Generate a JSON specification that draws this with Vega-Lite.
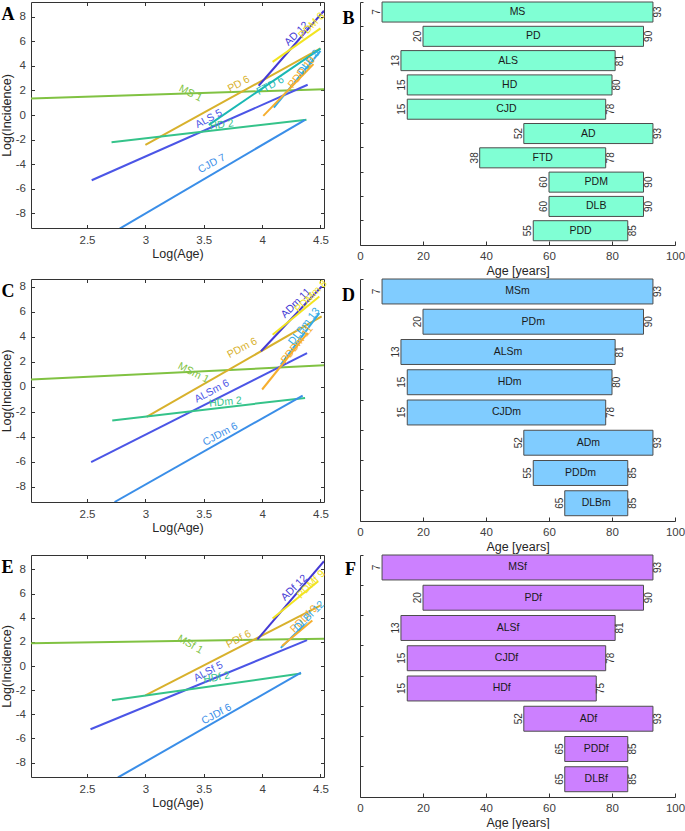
{
  "$schema": "https://vega.github.io/schema/vega-lite/v6.json",
  "padding": {"left": 0, "top": 1, "right": 0, "bottom": 0},
  "background": "white",
  "config": {
    "font": "Liberation Sans",
    "view": {"stroke": null},
    "axis": {"labelFont": "Liberation Sans", "titleFont": "Liberation Sans", "labelColor": "#404040", "titleColor": "#262626", "domainColor": "#333333", "tickColor": "#333333", "grid": false, "titleFontWeight": "normal", "labelFontSize": 11.5, "titleFontSize": 12.5, "labelFlush": false, "labelOverlap": false}
  },
  "datasets": {
    "linesA": [
      {"d": "MS", "x": 2.02, "y": 1.34}, {"d": "MS", "x": 4.53, "y": 2.1},
      {"d": "PD", "x": 3.0, "y": -2.43}, {"d": "PD", "x": 4.5, "y": 5.42},
      {"d": "ALS", "x": 2.54, "y": -5.31}, {"d": "ALS", "x": 4.39, "y": 2.46},
      {"d": "HD", "x": 2.71, "y": -2.21}, {"d": "HD", "x": 4.38, "y": -0.39},
      {"d": "CJD", "x": 2.78, "y": -9.25}, {"d": "CJD", "x": 4.368, "y": -0.39},
      {"d": "FTD", "x": 3.543, "y": -0.8}, {"d": "FTD", "x": 4.5, "y": 5.4},
      {"d": "AD", "x": 3.97, "y": 2.38}, {"d": "AD", "x": 4.53, "y": 8.49},
      {"d": "PDM", "x": 4.09, "y": 4.33}, {"d": "PDM", "x": 4.5, "y": 7.05},
      {"d": "DLB", "x": 4.1, "y": 0.6}, {"d": "DLB", "x": 4.5, "y": 5.23},
      {"d": "PDD", "x": 4.01, "y": -0.07}, {"d": "PDD", "x": 4.44, "y": 4.14}
    ],
    "labelsA": [
      {"d": "MS", "t": "MS 1", "x": 3.386, "y": 1.75},
      {"d": "PD", "t": "PD 6", "x": 3.8, "y": 2.52},
      {"d": "ALS", "t": "ALS 5", "x": 3.543, "y": -0.31},
      {"d": "HD", "t": "HD 2", "x": 3.654, "y": -0.8},
      {"d": "CJD", "t": "CJD 7", "x": 3.569, "y": -3.96},
      {"d": "FTD", "t": "FTD 6", "x": 4.07, "y": 2.38},
      {"d": "AD", "t": "AD 12", "x": 4.297, "y": 6.61},
      {"d": "PDM", "t": "PDM 8", "x": 4.425, "y": 7.27},
      {"d": "DLB", "t": "DLB 8", "x": 4.4, "y": 4.28},
      {"d": "PDD", "t": "PDD 10", "x": 4.34, "y": 3.46}
    ],
    "linesC": [
      {"d": "MS", "x": 2.02, "y": 0.57}, {"d": "MS", "x": 4.53, "y": 1.71},
      {"d": "PD", "x": 3.01, "y": -2.4}, {"d": "PD", "x": 4.51, "y": 5.61},
      {"d": "ALS", "x": 2.535, "y": -6.01}, {"d": "ALS", "x": 4.385, "y": 2.69},
      {"d": "HD", "x": 2.716, "y": -2.69}, {"d": "HD", "x": 4.368, "y": -0.89},
      {"d": "CJD", "x": 2.736, "y": -9.2}, {"d": "CJD", "x": 4.347, "y": -0.7},
      {"d": "AD", "x": 3.99, "y": 2.83}, {"d": "AD", "x": 4.51, "y": 8.0},
      {"d": "PDM", "x": 4.09, "y": 4.15}, {"d": "PDM", "x": 4.49, "y": 7.2},
      {"d": "DLB", "x": 4.16, "y": 1.77}, {"d": "DLB", "x": 4.49, "y": 5.88},
      {"d": "PDD", "x": 4.0, "y": -0.22}, {"d": "PDD", "x": 4.39, "y": 4.29}
    ],
    "labelsC": [
      {"d": "MS", "t": "MSm 1", "x": 3.412, "y": 1.1},
      {"d": "PD", "t": "PDm 6", "x": 3.83, "y": 3.09},
      {"d": "ALS", "t": "ALSm 6", "x": 3.57, "y": -0.36},
      {"d": "HD", "t": "HDm 2", "x": 3.686, "y": -1.23},
      {"d": "CJD", "t": "CJDm 6", "x": 3.642, "y": -3.8},
      {"d": "AD", "t": "ADm 11", "x": 4.29, "y": 6.67},
      {"d": "PDM", "t": "PDMm 8", "x": 4.42, "y": 7.2},
      {"d": "DLB", "t": "DLBm 13", "x": 4.36, "y": 4.82},
      {"d": "PDD", "t": "PDDm 11", "x": 4.3, "y": 3.36}
    ],
    "linesE": [
      {"d": "MS", "x": 2.02, "y": 1.88}, {"d": "MS", "x": 4.53, "y": 2.26},
      {"d": "PD", "x": 3.0, "y": -2.43}, {"d": "PD", "x": 4.506, "y": 5.05},
      {"d": "ALS", "x": 2.53, "y": -5.24}, {"d": "ALS", "x": 4.385, "y": 2.15},
      {"d": "HD", "x": 2.713, "y": -2.84}, {"d": "HD", "x": 4.333, "y": -0.63},
      {"d": "CJD", "x": 2.765, "y": -9.24}, {"d": "CJD", "x": 4.333, "y": -0.55},
      {"d": "AD", "x": 3.96, "y": 2.21}, {"d": "AD", "x": 4.53, "y": 8.69},
      {"d": "PDM", "x": 4.09, "y": 3.94}, {"d": "PDM", "x": 4.48, "y": 7.03},
      {"d": "DLB", "x": 4.16, "y": 1.5}, {"d": "DLB", "x": 4.36, "y": 3.4},
      {"d": "PDD", "x": 4.17, "y": 1.66}, {"d": "PDD", "x": 4.43, "y": 3.78}
    ],
    "labelsE": [
      {"d": "MS", "t": "MSf 1", "x": 3.383, "y": 1.79},
      {"d": "PD", "t": "PDf 6", "x": 3.8, "y": 2.21},
      {"d": "ALS", "t": "ALSf 5", "x": 3.54, "y": -0.47},
      {"d": "HD", "t": "HDf 2", "x": 3.61, "y": -0.97},
      {"d": "CJD", "t": "CJDf 6", "x": 3.61, "y": -4.0},
      {"d": "AD", "t": "ADf 12", "x": 4.276, "y": 6.48},
      {"d": "PDM", "t": "PDMf 9", "x": 4.42, "y": 6.76},
      {"d": "PDD", "t": "PDDf 9", "x": 4.36, "y": 3.9},
      {"d": "DLB", "t": "DLBf 12", "x": 4.405, "y": 4.14}
    ],
    "barsB": [
      {"label": "MS", "start": 7, "end": 93},
      {"label": "PD", "start": 20, "end": 90},
      {"label": "ALS", "start": 13, "end": 81},
      {"label": "HD", "start": 15, "end": 80},
      {"label": "CJD", "start": 15, "end": 78},
      {"label": "AD", "start": 52, "end": 93},
      {"label": "FTD", "start": 38, "end": 78},
      {"label": "PDM", "start": 60, "end": 90},
      {"label": "DLB", "start": 60, "end": 90},
      {"label": "PDD", "start": 55, "end": 85}
    ],
    "barsD": [
      {"label": "MSm", "start": 7, "end": 93},
      {"label": "PDm", "start": 20, "end": 90},
      {"label": "ALSm", "start": 13, "end": 81},
      {"label": "HDm", "start": 15, "end": 80},
      {"label": "CJDm", "start": 15, "end": 78},
      {"label": "ADm", "start": 52, "end": 93},
      {"label": "PDDm", "start": 55, "end": 85},
      {"label": "DLBm", "start": 65, "end": 85}
    ],
    "barsF": [
      {"label": "MSf", "start": 7, "end": 93},
      {"label": "PDf", "start": 20, "end": 90},
      {"label": "ALSf", "start": 13, "end": 81},
      {"label": "CJDf", "start": 15, "end": 78},
      {"label": "HDf", "start": 15, "end": 75},
      {"label": "ADf", "start": 52, "end": 93},
      {"label": "PDDf", "start": 65, "end": 85},
      {"label": "DLBf", "start": 65, "end": 85}
    ]
  },
  "columns": 2,
  "spacing": {"row": 34, "column": 36},
  "bounds": "flush",
  "concat": [
    {
      "width": 293, "height": 226,
      "title": {"text": "A", "anchor": "start", "frame": "group", "orient": "none", "offset": 0, "dx": -29.6, "dy": 18.3, "baseline": "alphabetic", "font": "Liberation Serif", "fontSize": 18, "fontWeight": "bold", "color": "#000000"},
      "layer": [
        {"data": {"name": "linesA"}, "mark": {"type": "line", "strokeWidth": 2, "clip": true},
         "encoding": {
           "x": {"field": "x", "type": "quantitative", "scale": {"domain": [2.02, 4.53], "nice": false, "zero": false}, "axis": {"orient": "bottom", "values": [2.5, 3, 3.5, 4, 4.5], "labelExpr": "'' + datum.value", "title": "Log(Age)", "tickSize": -3.5, "labelPadding": 9.7, "titlePadding": 2}},
           "y": {"field": "y", "type": "quantitative", "scale": {"domain": [-9.2, 9.2], "nice": false, "zero": false}, "axis": {"orient": "left", "values": [-8, -6, -4, -2, 0, 2, 4, 6, 8], "labelExpr": "'' + datum.value", "title": "Log(Incidence)", "tickSize": -3.5, "labelPadding": 9.1, "titlePadding": 2}},
           "color": {"field": "d", "type": "nominal", "scale": {"domain": ["MS", "PD", "ALS", "HD", "CJD", "FTD", "AD", "PDM", "DLB", "PDD"], "range": ["#80c242", "#d8b12c", "#4b55e6", "#35c38a", "#3a8ee8", "#1ab8b4", "#4439d4", "#f2e420", "#33aae6", "#f6ae2e"]}, "legend": null}
         }},
        {"data": {"name": "labelsA"}, "transform": [{"filter": {"field": "d", "oneOf": ["MS"]}}], "mark": {"type": "text", "angle": 27, "fontSize": 10.5, "font": "Liberation Sans"},
         "encoding": {"x": {"field": "x", "type": "quantitative", "axis": null}, "y": {"field": "y", "type": "quantitative", "axis": null}, "text": {"field": "t"}, "color": {"field": "d", "type": "nominal", "legend": null}}},
        {"data": {"name": "labelsA"}, "transform": [{"filter": {"field": "d", "oneOf": ["HD"]}}], "mark": {"type": "text", "angle": -8, "fontSize": 10.5, "font": "Liberation Sans"},
         "encoding": {"x": {"field": "x", "type": "quantitative", "axis": null}, "y": {"field": "y", "type": "quantitative", "axis": null}, "text": {"field": "t"}, "color": {"field": "d", "type": "nominal", "legend": null}}},
        {"data": {"name": "labelsA"}, "transform": [{"filter": {"field": "d", "oneOf": ["PD", "ALS", "CJD", "FTD"]}}], "mark": {"type": "text", "angle": -28, "fontSize": 10.5, "font": "Liberation Sans"},
         "encoding": {"x": {"field": "x", "type": "quantitative", "axis": null}, "y": {"field": "y", "type": "quantitative", "axis": null}, "text": {"field": "t"}, "color": {"field": "d", "type": "nominal", "legend": null}}},
        {"data": {"name": "labelsA"}, "transform": [{"filter": {"field": "d", "oneOf": ["AD", "PDM"]}}], "mark": {"type": "text", "angle": -45, "fontSize": 10.5, "font": "Liberation Sans"},
         "encoding": {"x": {"field": "x", "type": "quantitative", "axis": null}, "y": {"field": "y", "type": "quantitative", "axis": null}, "text": {"field": "t"}, "color": {"field": "d", "type": "nominal", "legend": null}}},
        {"data": {"name": "labelsA"}, "transform": [{"filter": {"field": "d", "oneOf": ["DLB", "PDD"]}}], "mark": {"type": "text", "angle": -52, "fontSize": 10.5, "font": "Liberation Sans"},
         "encoding": {"x": {"field": "x", "type": "quantitative", "axis": null}, "y": {"field": "y", "type": "quantitative", "axis": null}, "text": {"field": "t"}, "color": {"field": "d", "type": "nominal", "legend": null}}},
        {"data": {"name": "linesA"}, "mark": {"type": "point", "opacity": 0},
         "encoding": {
           "x": {"field": "x", "type": "quantitative", "axis": {"orient": "top", "values": [2.5, 3, 3.5, 4, 4.5], "labels": false, "title": null, "tickSize": -3.5}},
           "y": {"field": "y", "type": "quantitative", "axis": {"orient": "right", "values": [-8, -6, -4, -2, 0, 2, 4, 6, 8], "labels": false, "title": null, "tickSize": -3.5}}
         }}
      ],
      "resolve": {"axis": {"x": "independent", "y": "independent"}}
    },
    {
      "width": 315, "height": 243,
      "title": {"text": "B", "anchor": "start", "frame": "group", "orient": "none", "offset": 0, "dx": -17.4, "dy": 22.3, "baseline": "alphabetic", "font": "Liberation Serif", "fontSize": 18, "fontWeight": "bold", "color": "#000000"},
      "data": {"name": "barsB"},
      "encoding": {
        "y": {"field": "label", "type": "nominal", "sort": null, "scale": {"domain": ["MS", "PD", "ALS", "HD", "CJD", "AD", "FTD", "PDM", "DLB", "PDD"], "paddingInner": 0.175, "paddingOuter": 0.0875, "align": 0}, "axis": {"orient": "left", "labels": false, "title": null, "tickSize": -3, "bandPosition": 0}}
      },
      "layer": [
        {"mark": {"type": "bar", "fill": "#80ffd4", "stroke": "#4d4d4d", "strokeWidth": 1, "cornerRadius": 0},
         "encoding": {
           "x": {"field": "start", "type": "quantitative", "scale": {"domain": [0, 100], "nice": false}, "axis": {"orient": "bottom", "values": [0, 20, 40, 60, 80, 100], "labelExpr": "'' + datum.value", "title": "Age [years]", "tickSize": -4, "labelPadding": 9.8, "titlePadding": 2}},
           "x2": {"field": "end"}
         }},
        {"transform": [{"fold": ["start", "end"], "as": ["k", "v"]}],
         "mark": {"type": "text", "fontSize": 10.5, "color": "#1a1a1a", "font": "Liberation Sans"},
         "encoding": {"x": {"aggregate": "mean", "field": "v", "type": "quantitative", "axis": {"orient": "bottom", "values": [0, 20, 40, 60, 80, 100], "labelExpr": "'' + datum.value", "title": "Age [years]", "tickSize": -4, "labelPadding": 9.8, "titlePadding": 2}}, "text": {"field": "label"}}},
        {"mark": {"type": "text", "angle": 270, "baseline": "bottom", "align": "center", "fontSize": 10, "color": "#333333", "font": "Liberation Sans"},
         "encoding": {"x": {"field": "start", "type": "quantitative", "axis": {"orient": "bottom", "values": [0, 20, 40, 60, 80, 100], "labelExpr": "'' + datum.value", "title": "Age [years]", "tickSize": -4, "labelPadding": 9.8, "titlePadding": 2}}, "text": {"field": "start"}}},
        {"mark": {"type": "text", "angle": 270, "baseline": "top", "align": "center", "fontSize": 10, "color": "#333333", "font": "Liberation Sans"},
         "encoding": {"x": {"field": "end", "type": "quantitative", "axis": {"orient": "bottom", "values": [0, 20, 40, 60, 80, 100], "labelExpr": "'' + datum.value", "title": "Age [years]", "tickSize": -4, "labelPadding": 9.8, "titlePadding": 2}}, "text": {"field": "end"}}}
      ]
    },
    {
      "width": 293, "height": 223,
      "title": {"text": "C", "anchor": "start", "frame": "group", "orient": "none", "offset": 0, "dx": -29.6, "dy": 18.4, "baseline": "alphabetic", "font": "Liberation Serif", "fontSize": 18, "fontWeight": "bold", "color": "#000000"},
      "layer": [
        {"data": {"name": "linesC"}, "mark": {"type": "line", "strokeWidth": 2, "clip": true},
         "encoding": {
           "x": {"field": "x", "type": "quantitative", "scale": {"domain": [2.02, 4.53], "nice": false, "zero": false}, "axis": {"orient": "bottom", "values": [2.5, 3, 3.5, 4, 4.5], "labelExpr": "'' + datum.value", "title": "Log(Age)", "tickSize": -3.5, "labelPadding": 9.7, "titlePadding": 2}},
           "y": {"field": "y", "type": "quantitative", "scale": {"domain": [-9.2, 8.6], "nice": false, "zero": false}, "axis": {"orient": "left", "values": [-8, -6, -4, -2, 0, 2, 4, 6, 8], "labelExpr": "'' + datum.value", "title": "Log(Incidence)", "tickSize": -3.5, "labelPadding": 9.1, "titlePadding": 2}},
           "color": {"field": "d", "type": "nominal", "scale": {"domain": ["MS", "PD", "ALS", "HD", "CJD", "FTD", "AD", "PDM", "DLB", "PDD"], "range": ["#80c242", "#d8b12c", "#4b55e6", "#35c38a", "#3a8ee8", "#1ab8b4", "#4439d4", "#f2e420", "#33aae6", "#f6ae2e"]}, "legend": null}
         }},
        {"data": {"name": "labelsC"}, "transform": [{"filter": {"field": "d", "oneOf": ["MS"]}}], "mark": {"type": "text", "angle": 27, "fontSize": 10.5, "font": "Liberation Sans"},
         "encoding": {"x": {"field": "x", "type": "quantitative", "axis": null}, "y": {"field": "y", "type": "quantitative", "axis": null}, "text": {"field": "t"}, "color": {"field": "d", "type": "nominal", "legend": null}}},
        {"data": {"name": "labelsC"}, "transform": [{"filter": {"field": "d", "oneOf": ["HD"]}}], "mark": {"type": "text", "angle": -6, "fontSize": 10.5, "font": "Liberation Sans"},
         "encoding": {"x": {"field": "x", "type": "quantitative", "axis": null}, "y": {"field": "y", "type": "quantitative", "axis": null}, "text": {"field": "t"}, "color": {"field": "d", "type": "nominal", "legend": null}}},
        {"data": {"name": "labelsC"}, "transform": [{"filter": {"field": "d", "oneOf": ["PD", "ALS", "CJD", "FTD"]}}], "mark": {"type": "text", "angle": -28, "fontSize": 10.5, "font": "Liberation Sans"},
         "encoding": {"x": {"field": "x", "type": "quantitative", "axis": null}, "y": {"field": "y", "type": "quantitative", "axis": null}, "text": {"field": "t"}, "color": {"field": "d", "type": "nominal", "legend": null}}},
        {"data": {"name": "labelsC"}, "transform": [{"filter": {"field": "d", "oneOf": ["AD", "PDM"]}}], "mark": {"type": "text", "angle": -45, "fontSize": 10.5, "font": "Liberation Sans"},
         "encoding": {"x": {"field": "x", "type": "quantitative", "axis": null}, "y": {"field": "y", "type": "quantitative", "axis": null}, "text": {"field": "t"}, "color": {"field": "d", "type": "nominal", "legend": null}}},
        {"data": {"name": "labelsC"}, "transform": [{"filter": {"field": "d", "oneOf": ["DLB", "PDD"]}}], "mark": {"type": "text", "angle": -52, "fontSize": 10.5, "font": "Liberation Sans"},
         "encoding": {"x": {"field": "x", "type": "quantitative", "axis": null}, "y": {"field": "y", "type": "quantitative", "axis": null}, "text": {"field": "t"}, "color": {"field": "d", "type": "nominal", "legend": null}}},
        {"data": {"name": "linesC"}, "mark": {"type": "point", "opacity": 0},
         "encoding": {
           "x": {"field": "x", "type": "quantitative", "axis": {"orient": "top", "values": [2.5, 3, 3.5, 4, 4.5], "labels": false, "title": null, "tickSize": -3.5}},
           "y": {"field": "y", "type": "quantitative", "axis": {"orient": "right", "values": [-8, -6, -4, -2, 0, 2, 4, 6, 8], "labels": false, "title": null, "tickSize": -3.5}}
         }}
      ],
      "resolve": {"axis": {"x": "independent", "y": "independent"}}
    },
    {
      "width": 315, "height": 242,
      "title": {"text": "D", "anchor": "start", "frame": "group", "orient": "none", "offset": 0, "dx": -18, "dy": 21.7, "baseline": "alphabetic", "font": "Liberation Serif", "fontSize": 18, "fontWeight": "bold", "color": "#000000"},
      "data": {"name": "barsD"},
      "encoding": {
        "y": {"field": "label", "type": "nominal", "sort": null, "scale": {"domain": ["MSm", "PDm", "ALSm", "HDm", "CJDm", "ADm", "PDDm", "DLBm"], "paddingInner": 0.175, "paddingOuter": 0.0875, "align": 0}, "axis": {"orient": "left", "labels": false, "title": null, "tickSize": -3, "bandPosition": 0}}
      },
      "layer": [
        {"mark": {"type": "bar", "fill": "#80ccff", "stroke": "#4d4d4d", "strokeWidth": 1, "cornerRadius": 0},
         "encoding": {
           "x": {"field": "start", "type": "quantitative", "scale": {"domain": [0, 100], "nice": false}, "axis": {"orient": "bottom", "values": [0, 20, 40, 60, 80, 100], "labelExpr": "'' + datum.value", "title": "Age [years]", "tickSize": -4, "labelPadding": 9.8, "titlePadding": 2}},
           "x2": {"field": "end"}
         }},
        {"transform": [{"fold": ["start", "end"], "as": ["k", "v"]}],
         "mark": {"type": "text", "fontSize": 10.5, "color": "#1a1a1a", "font": "Liberation Sans"},
         "encoding": {"x": {"aggregate": "mean", "field": "v", "type": "quantitative", "axis": {"orient": "bottom", "values": [0, 20, 40, 60, 80, 100], "labelExpr": "'' + datum.value", "title": "Age [years]", "tickSize": -4, "labelPadding": 9.8, "titlePadding": 2}}, "text": {"field": "label"}}},
        {"mark": {"type": "text", "angle": 270, "baseline": "bottom", "align": "center", "fontSize": 10, "color": "#333333", "font": "Liberation Sans"},
         "encoding": {"x": {"field": "start", "type": "quantitative", "axis": {"orient": "bottom", "values": [0, 20, 40, 60, 80, 100], "labelExpr": "'' + datum.value", "title": "Age [years]", "tickSize": -4, "labelPadding": 9.8, "titlePadding": 2}}, "text": {"field": "start"}}},
        {"mark": {"type": "text", "angle": 270, "baseline": "top", "align": "center", "fontSize": 10, "color": "#333333", "font": "Liberation Sans"},
         "encoding": {"x": {"field": "end", "type": "quantitative", "axis": {"orient": "bottom", "values": [0, 20, 40, 60, 80, 100], "labelExpr": "'' + datum.value", "title": "Age [years]", "tickSize": -4, "labelPadding": 9.8, "titlePadding": 2}}, "text": {"field": "end"}}}
      ]
    },
    {
      "width": 293, "height": 222,
      "title": {"text": "E", "anchor": "start", "frame": "group", "orient": "none", "offset": 0, "dx": -29.6, "dy": 17.7, "baseline": "alphabetic", "font": "Liberation Serif", "fontSize": 18, "fontWeight": "bold", "color": "#000000"},
      "layer": [
        {"data": {"name": "linesE"}, "mark": {"type": "line", "strokeWidth": 2, "clip": true},
         "encoding": {
           "x": {"field": "x", "type": "quantitative", "scale": {"domain": [2.02, 4.53], "nice": false, "zero": false}, "axis": {"orient": "bottom", "values": [2.5, 3, 3.5, 4, 4.5], "labelExpr": "'' + datum.value", "title": "Log(Age)", "tickSize": -3.5, "labelPadding": 9.7, "titlePadding": 2}},
           "y": {"field": "y", "type": "quantitative", "scale": {"domain": [-9.2, 9.2], "nice": false, "zero": false}, "axis": {"orient": "left", "values": [-8, -6, -4, -2, 0, 2, 4, 6, 8], "labelExpr": "'' + datum.value", "title": "Log(Incidence)", "tickSize": -3.5, "labelPadding": 9.1, "titlePadding": 2}},
           "color": {"field": "d", "type": "nominal", "scale": {"domain": ["MS", "PD", "ALS", "HD", "CJD", "FTD", "AD", "PDM", "DLB", "PDD"], "range": ["#80c242", "#d8b12c", "#4b55e6", "#35c38a", "#3a8ee8", "#1ab8b4", "#4439d4", "#f2e420", "#33aae6", "#f6ae2e"]}, "legend": null}
         }},
        {"data": {"name": "labelsE"}, "transform": [{"filter": {"field": "d", "oneOf": ["MS"]}}], "mark": {"type": "text", "angle": 30, "fontSize": 10.5, "font": "Liberation Sans"},
         "encoding": {"x": {"field": "x", "type": "quantitative", "axis": null}, "y": {"field": "y", "type": "quantitative", "axis": null}, "text": {"field": "t"}, "color": {"field": "d", "type": "nominal", "legend": null}}},
        {"data": {"name": "labelsE"}, "transform": [{"filter": {"field": "d", "oneOf": ["HD"]}}], "mark": {"type": "text", "angle": -10, "fontSize": 10.5, "font": "Liberation Sans"},
         "encoding": {"x": {"field": "x", "type": "quantitative", "axis": null}, "y": {"field": "y", "type": "quantitative", "axis": null}, "text": {"field": "t"}, "color": {"field": "d", "type": "nominal", "legend": null}}},
        {"data": {"name": "labelsE"}, "transform": [{"filter": {"field": "d", "oneOf": ["PD", "ALS", "CJD", "FTD"]}}], "mark": {"type": "text", "angle": -28, "fontSize": 10.5, "font": "Liberation Sans"},
         "encoding": {"x": {"field": "x", "type": "quantitative", "axis": null}, "y": {"field": "y", "type": "quantitative", "axis": null}, "text": {"field": "t"}, "color": {"field": "d", "type": "nominal", "legend": null}}},
        {"data": {"name": "labelsE"}, "transform": [{"filter": {"field": "d", "oneOf": ["AD", "PDM", "DLB", "PDD"]}}], "mark": {"type": "text", "angle": -45, "fontSize": 10.5, "font": "Liberation Sans"},
         "encoding": {"x": {"field": "x", "type": "quantitative", "axis": null}, "y": {"field": "y", "type": "quantitative", "axis": null}, "text": {"field": "t"}, "color": {"field": "d", "type": "nominal", "legend": null}}},
        {"data": {"name": "linesE"}, "mark": {"type": "point", "opacity": 0},
         "encoding": {
           "x": {"field": "x", "type": "quantitative", "axis": {"orient": "top", "values": [2.5, 3, 3.5, 4, 4.5], "labels": false, "title": null, "tickSize": -3.5}},
           "y": {"field": "y", "type": "quantitative", "axis": {"orient": "right", "values": [-8, -6, -4, -2, 0, 2, 4, 6, 8], "labels": false, "title": null, "tickSize": -3.5}}
         }}
      ],
      "resolve": {"axis": {"x": "independent", "y": "independent"}}
    },
    {
      "width": 315, "height": 242,
      "title": {"text": "F", "anchor": "start", "frame": "group", "orient": "none", "offset": 0, "dx": -15, "dy": 20.3, "baseline": "alphabetic", "font": "Liberation Serif", "fontSize": 18, "fontWeight": "bold", "color": "#000000"},
      "data": {"name": "barsF"},
      "encoding": {
        "y": {"field": "label", "type": "nominal", "sort": null, "scale": {"domain": ["MSf", "PDf", "ALSf", "CJDf", "HDf", "ADf", "PDDf", "DLBf"], "paddingInner": 0.175, "paddingOuter": 0.0875, "align": 0}, "axis": {"orient": "left", "labels": false, "title": null, "tickSize": -3, "bandPosition": 0}}
      },
      "layer": [
        {"mark": {"type": "bar", "fill": "#cc80ff", "stroke": "#4d4d4d", "strokeWidth": 1, "cornerRadius": 0},
         "encoding": {
           "x": {"field": "start", "type": "quantitative", "scale": {"domain": [0, 100], "nice": false}, "axis": {"orient": "bottom", "values": [0, 20, 40, 60, 80, 100], "labelExpr": "'' + datum.value", "title": "Age [years]", "tickSize": -4, "labelPadding": 9.8, "titlePadding": 2}},
           "x2": {"field": "end"}
         }},
        {"transform": [{"fold": ["start", "end"], "as": ["k", "v"]}],
         "mark": {"type": "text", "fontSize": 10.5, "color": "#1a1a1a", "font": "Liberation Sans"},
         "encoding": {"x": {"aggregate": "mean", "field": "v", "type": "quantitative", "axis": {"orient": "bottom", "values": [0, 20, 40, 60, 80, 100], "labelExpr": "'' + datum.value", "title": "Age [years]", "tickSize": -4, "labelPadding": 9.8, "titlePadding": 2}}, "text": {"field": "label"}}},
        {"mark": {"type": "text", "angle": 270, "baseline": "bottom", "align": "center", "fontSize": 10, "color": "#333333", "font": "Liberation Sans"},
         "encoding": {"x": {"field": "start", "type": "quantitative", "axis": {"orient": "bottom", "values": [0, 20, 40, 60, 80, 100], "labelExpr": "'' + datum.value", "title": "Age [years]", "tickSize": -4, "labelPadding": 9.8, "titlePadding": 2}}, "text": {"field": "start"}}},
        {"mark": {"type": "text", "angle": 270, "baseline": "top", "align": "center", "fontSize": 10, "color": "#333333", "font": "Liberation Sans"},
         "encoding": {"x": {"field": "end", "type": "quantitative", "axis": {"orient": "bottom", "values": [0, 20, 40, 60, 80, 100], "labelExpr": "'' + datum.value", "title": "Age [years]", "tickSize": -4, "labelPadding": 9.8, "titlePadding": 2}}, "text": {"field": "end"}}}
      ]
    }
  ]
}
